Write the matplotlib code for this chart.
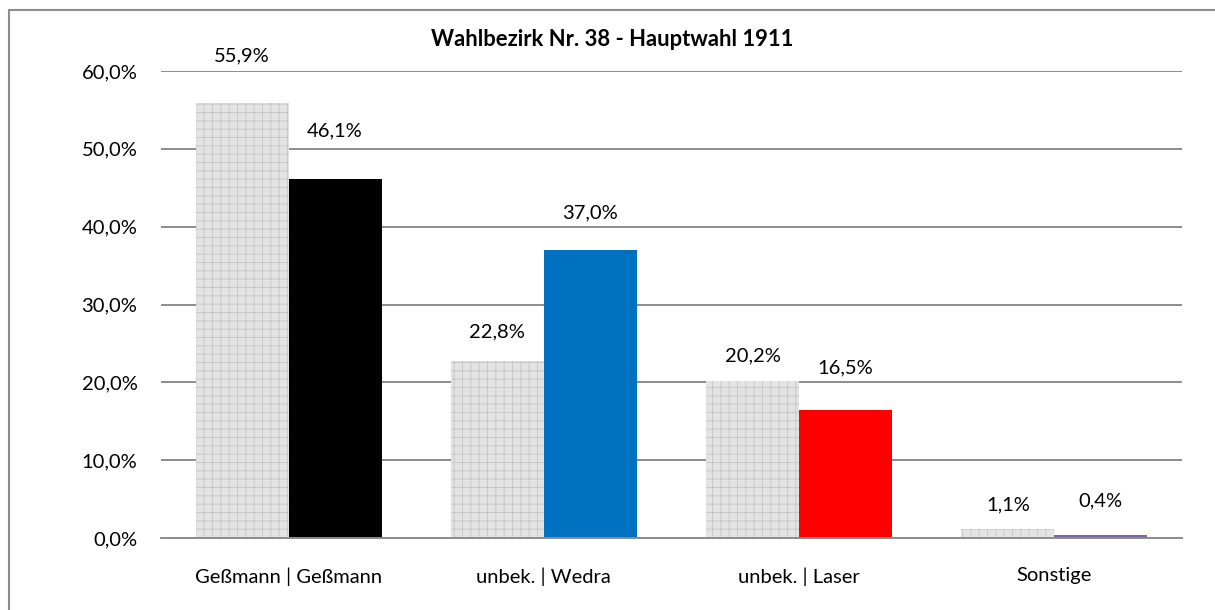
import matplotlib.pyplot as plt
import numpy as np
from matplotlib.patches import Rectangle

# Wahlbezirk Nr. 38 - Hauptwahl 1911

categories = ['Geßmann | Geßmann', 'unbek. | Wedra', 'unbek. | Laser', 'Sonstige']
vorwahl = [55.9, 22.8, 20.2, 1.1]      # grau, gerastert
hauptwahl = [46.1, 37.0, 16.5, 0.4]    # farbig
colors = ['#000000', '#0070C0', '#FF0000', '#8064A2']
yticks = [0, 10, 20, 30, 40, 50, 60]

# Abstand der Beschriftung über dem Balken (Pixel), wie im Original verschoben
off_grau = [47, 29, 25, 25]
off_farbe = [48, 37, 42, 34]

plt.rcParams['font.family'] = ['Lato', 'DejaVu Sans']
plt.rcParams['hatch.color'] = '#c8c8c8'
plt.rcParams['hatch.linewidth'] = 0.7

fig = plt.figure(figsize=(12.15, 6.1), dpi=100)
ax = fig.add_axes([161/1215, 1 - 538/610, (1182-161)/1215, (538-71)/610])

x = np.arange(len(categories))
w = 0.364

ax.bar(x - w, vorwahl, w, align='edge', color='#e3e3e3', hatch='++', linewidth=0, zorder=2)
ax.bar(x, hauptwahl, w, align='edge', color=colors, linewidth=0, zorder=2)

fs = 14.5
px = 72 / fig.dpi
for i in range(len(categories)):
    ax.annotate(f'{vorwahl[i]:.1f}%'.replace('.', ','), (x[i] - w/2, vorwahl[i]),
                xytext=(0, off_grau[i] * px), textcoords='offset points',
                ha='center', va='center', fontsize=fs)
    ax.annotate(f'{hauptwahl[i]:.1f}%'.replace('.', ','), (x[i] + w/2, hauptwahl[i]),
                xytext=(0, off_farbe[i] * px), textcoords='offset points',
                ha='center', va='center', fontsize=fs)

ax.set_xlim(-0.5, 3.5)
ax.set_ylim(0, 60)
ax.set_yticks(yticks)
ax.set_yticklabels([f'{t:.1f}%'.replace('.', ',') for t in yticks], fontsize=fs)
ax.set_xticks(x)
ax.set_xticklabels(categories, fontsize=fs)
ax.tick_params(axis='y', length=0, pad=17)
ax.tick_params(axis='x', length=0, pad=21)
ax.yaxis.grid(True, color='#8c8c8c', linewidth=1.4, zorder=1)
for s in ['top', 'right', 'left']:
    ax.spines[s].set_visible(False)
ax.spines['bottom'].set_color('#8c8c8c')
ax.spines['bottom'].set_linewidth(1.4)
ax.set_axisbelow(True)

fig.text(612/1215, 1 - 40/610, 'Wahlbezirk Nr. 38 - Hauptwahl 1911', ha='center', va='center',
         fontsize=15.8, fontweight='bold')

# Rahmen
fig.patches.append(Rectangle((9/1215, -0.1), 1.2, 1 - 10/610 + 0.1, transform=fig.transFigure,
                             fill=False, edgecolor='#8c8c8c', linewidth=1.5))

fig.savefig('out.png', dpi=100)
